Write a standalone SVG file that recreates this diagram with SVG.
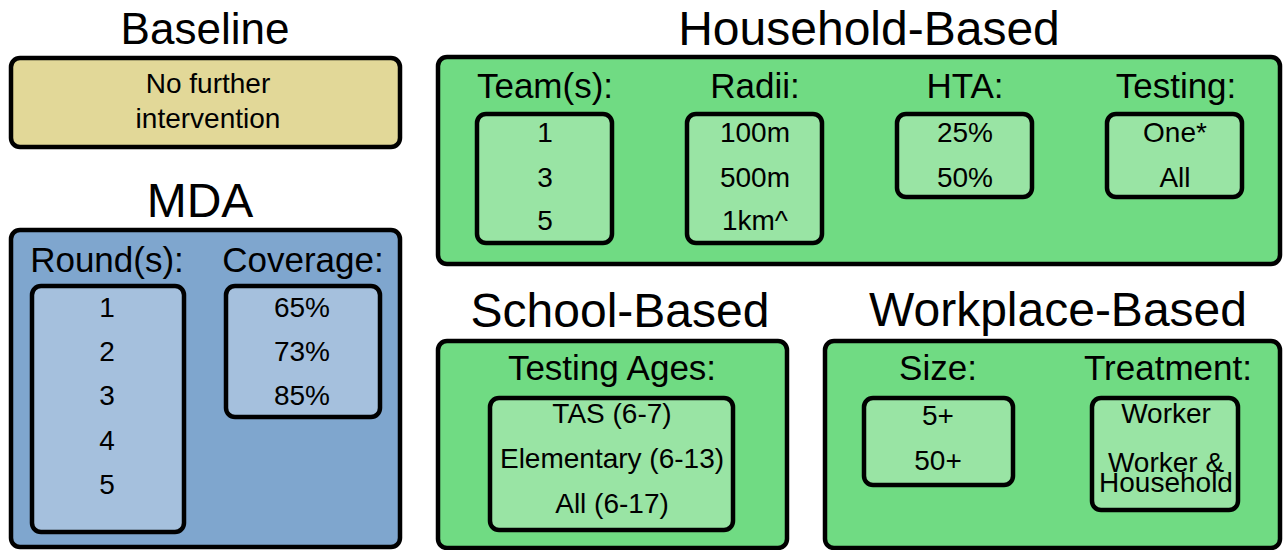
<svg xmlns="http://www.w3.org/2000/svg" width="1286" height="550" viewBox="0 0 1286 550">
  <style>
    text { font-family: "Liberation Sans", Arial, sans-serif; fill: #000; text-anchor: middle; }
    .title { font-size: 48px; }
    .head { font-size: 35px; }
    .val { font-size: 28px; }
    .box { stroke: #000; stroke-width: 4.5; }
    .tan { fill: #e2d898; }
    .blue { fill: #7fa6ce; }
    .blue-in { fill: #a5c0dd; }
    .green { fill: #70db83; }
    .green-in { fill: #99e4a4; }
  </style>

  <!-- Baseline -->
  <g id="baseline">
    <text class="title" x="205" y="44" style="font-size:44px">Baseline</text>
    <rect class="box tan" x="11" y="58" width="389" height="89" rx="9"/>
    <text class="val" x="208" y="93">No further</text>
    <text class="val" x="208" y="128">intervention</text>
  </g>

  <!-- MDA -->
  <g id="mda">
    <text class="title" x="200" y="217">MDA</text>
    <rect class="box blue" x="11" y="230" width="389" height="317" rx="9"/>
    <text class="head" x="107" y="272">Round(s):</text>
    <rect class="box blue-in" x="32" y="286" width="152" height="246" rx="9"/>
    <text class="val" x="107" y="317">1</text>
    <text class="val" x="107" y="361">2</text>
    <text class="val" x="107" y="405">3</text>
    <text class="val" x="107" y="450">4</text>
    <text class="val" x="107" y="494">5</text>
    <text class="head" x="303" y="272">Coverage:</text>
    <rect class="box blue-in" x="226" y="286" width="154" height="131" rx="9"/>
    <text class="val" x="302" y="317">65%</text>
    <text class="val" x="302" y="361">73%</text>
    <text class="val" x="302" y="405">85%</text>
  </g>

  <!-- Household-Based -->
  <g id="household">
    <text class="title" x="869" y="45">Household-Based</text>
    <rect class="box green" x="438" y="57" width="842" height="207" rx="9"/>
    <text class="head" x="545" y="98">Team(s):</text>
    <rect class="box green-in" x="477" y="114" width="135" height="129" rx="9"/>
    <text class="val" x="545" y="142">1</text>
    <text class="val" x="545" y="187">3</text>
    <text class="val" x="545" y="230">5</text>
    <text class="head" x="755" y="98">Radii:</text>
    <rect class="box green-in" x="687" y="114" width="135" height="129" rx="9"/>
    <text class="val" x="755" y="142">100m</text>
    <text class="val" x="755" y="187">500m</text>
    <text class="val" x="755" y="230">1km^</text>
    <text class="head" x="965" y="98">HTA:</text>
    <rect class="box green-in" x="897" y="114" width="135" height="83" rx="9"/>
    <text class="val" x="965" y="142">25%</text>
    <text class="val" x="965" y="187">50%</text>
    <text class="head" x="1176" y="98">Testing:</text>
    <rect class="box green-in" x="1107" y="114" width="135" height="83" rx="9"/>
    <text class="val" x="1175" y="142">One*</text>
    <text class="val" x="1175" y="187">All</text>
  </g>

  <!-- School-Based -->
  <g id="school">
    <text class="title" x="620" y="327">School-Based</text>
    <rect class="box green" x="438" y="341" width="349" height="207" rx="9"/>
    <text class="head" x="612" y="380">Testing Ages:</text>
    <rect class="box green-in" x="490" y="398" width="243" height="132" rx="9"/>
    <text class="val" x="612" y="423">TAS (6-7)</text>
    <text class="val" x="612" y="468">Elementary (6-13)</text>
    <text class="val" x="612" y="513">All (6-17)</text>
  </g>

  <!-- Workplace-Based -->
  <g id="workplace">
    <text class="title" x="1058" y="326">Workplace-Based</text>
    <rect class="box green" x="825" y="341" width="455" height="207" rx="9"/>
    <text class="head" x="938" y="380">Size:</text>
    <rect class="box green-in" x="864" y="398" width="149" height="87" rx="9"/>
    <text class="val" x="938" y="425">5+</text>
    <text class="val" x="938" y="470">50+</text>
    <text class="head" x="1168" y="380">Treatment:</text>
    <rect class="box green-in" x="1092" y="398" width="146" height="112" rx="9"/>
    <text class="val" x="1166" y="423">Worker</text>
    <!-- two-line label set with tight leading -->
    <text class="val" x="1166" y="472">Worker &amp;<tspan x="1166" dy="20">Household</tspan></text>
  </g>

  <!-- no connectors in this figure -->
  <g id="connectors"/>
</svg>
